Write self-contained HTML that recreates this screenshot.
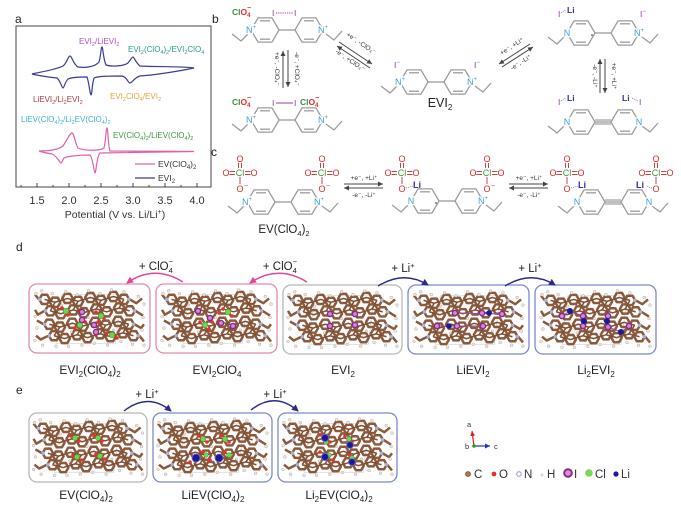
<!DOCTYPE html>
<html><head><meta charset="utf-8">
<style>
html,body{margin:0;padding:0;background:#fff;}
svg{display:block;font-family:"Liberation Sans",Arial,sans-serif;}
</style></head><body>
<svg width="681" height="509" viewBox="0 0 681 509" xmlns="http://www.w3.org/2000/svg">
<defs>
 <g id="ring"><polygon points="-14,0 -7,-12.1 7,-12.1 14,0 7,12.1 -7,12.1"/><line x1="-5" y1="-9.2" x2="5" y2="-9.2"/><line x1="-5" y1="9.2" x2="5" y2="9.2"/></g>
 <g id="bp" fill="none" stroke="#9c9c9c" stroke-width="1.3" stroke-linejoin="round">
   <use href="#ring"/><use href="#ring" x="44"/><line x1="14" y1="0" x2="30" y2="0"/>
   <polyline points="-17,4 -24,11 -33,4"/><polyline points="61,4 69,10 77,1"/>
 </g>
 <polygon id="hx" points="-5.5,0 -2.75,-4.8 2.75,-4.8 5.5,0 2.75,4.8 -2.75,4.8"/>
 <symbol id="cry" viewBox="0 0 118 68">
  <g fill="none" stroke="#c9c9c9" stroke-width=".6"><path d="M30,9 L92,9 L86,60 L24,60 Z"/></g>
  <g fill="none" stroke="#8b5a3c" stroke-width="2.6" stroke-linejoin="round">
   <use href="#hx" x="12" y="14"/><use href="#hx" x="23" y="17"/><use href="#hx" x="36" y="13"/><use href="#hx" x="47" y="16"/><use href="#hx" x="60" y="12"/><use href="#hx" x="71" y="15"/><use href="#hx" x="84" y="11"/><use href="#hx" x="95" y="14"/>
   <use href="#hx" x="18" y="26"/><use href="#hx" x="29" y="29"/><use href="#hx" x="42" y="25"/><use href="#hx" x="53" y="28"/><use href="#hx" x="66" y="24"/><use href="#hx" x="77" y="27"/><use href="#hx" x="90" y="23"/><use href="#hx" x="101" y="26"/>
   <use href="#hx" x="17" y="40"/><use href="#hx" x="28" y="43"/><use href="#hx" x="41" y="39"/><use href="#hx" x="52" y="42"/><use href="#hx" x="65" y="38"/><use href="#hx" x="76" y="41"/><use href="#hx" x="89" y="37"/><use href="#hx" x="100" y="40"/>
   <use href="#hx" x="22" y="52"/><use href="#hx" x="33" y="55"/><use href="#hx" x="46" y="51"/><use href="#hx" x="57" y="54"/><use href="#hx" x="70" y="50"/><use href="#hx" x="81" y="53"/><use href="#hx" x="94" y="49"/><use href="#hx" x="105" y="52"/>
   <path d="M6,14 L2,9 M101,14 L108,18 L114,13 M12,26 L5,30 L2,25 M107,26 L115,31 M11,40 L4,36 M106,40 L113,44 L116,40 M16,52 L8,56 L3,52 M111,52 L116,58"/>
  </g>
  <g fill="none" stroke="#7e5034" stroke-width="1.6" stroke-linejoin="round">
   <polyline points="12,14 23,17 36,13 47,16 60,12 71,15 84,11 95,14"/>
   <polyline points="18,26 29,29 42,25 53,28 66,24 77,27 90,23 101,26"/>
   <polyline points="17,40 28,43 41,39 52,42 65,38 76,41 89,37 100,40"/>
   <polyline points="22,52 33,55 46,51 57,54 70,50 81,53 94,49 105,52"/>
   <path d="M23,17 L18,26 M47,16 L42,25 M71,15 L66,24 M95,14 L90,23 M28,43 L22,52 M52,42 L46,51 M76,41 L70,50 M100,40 L94,49"/>
  </g>
  <g fill="#f2eeea" stroke="#c4b4aa" stroke-width=".6">
   <circle cx="3" cy="8" r="1.4"/><circle cx="9" cy="5" r="1.4"/><circle cx="20" cy="8" r="1.4"/><circle cx="34" cy="6" r="1.4"/><circle cx="46" cy="9" r="1.4"/><circle cx="58" cy="5" r="1.4"/><circle cx="70" cy="8" r="1.4"/><circle cx="82" cy="4" r="1.4"/><circle cx="95" cy="6" r="1.4"/><circle cx="110" cy="11" r="1.4"/><circle cx="116" cy="19" r="1.4"/><circle cx="115" cy="33" r="1.4"/><circle cx="2" cy="32" r="1.4"/><circle cx="4" cy="44" r="1.4"/><circle cx="114" cy="46" r="1.4"/><circle cx="2" cy="57" r="1.4"/><circle cx="10" cy="62" r="1.4"/><circle cx="24" cy="63" r="1.4"/><circle cx="37" cy="63" r="1.4"/><circle cx="51" cy="62" r="1.4"/><circle cx="64" cy="60" r="1.4"/><circle cx="78" cy="62" r="1.4"/><circle cx="92" cy="58" r="1.4"/><circle cx="104" cy="61" r="1.4"/><circle cx="116" cy="62" r="1.4"/><circle cx="30" cy="20" r="1.2"/><circle cx="58" cy="33" r="1.2"/><circle cx="84" cy="46" r="1.2"/><circle cx="40" cy="48" r="1.2"/>
  </g>
  <g fill="#a9b0d4"><circle cx="7" cy="14" r="1.8"/><circle cx="100" cy="14" r="1.8"/><circle cx="13" cy="26" r="1.8"/><circle cx="106" cy="26" r="1.8"/><circle cx="12" cy="40" r="1.8"/><circle cx="105" cy="40" r="1.8"/><circle cx="17" cy="52" r="1.8"/><circle cx="110" cy="52" r="1.8"/></g>
 </symbol>
 <marker id="ap" markerWidth="8" markerHeight="8" refX="6" refY="4" orient="auto" markerUnits="userSpaceOnUse"><path d="M0,0.5 L7,4 L0,7.5 Z" fill="#e0459a"/></marker>
 <marker id="ab" markerWidth="8" markerHeight="8" refX="6" refY="4" orient="auto" markerUnits="userSpaceOnUse"><path d="M0,0.5 L7,4 L0,7.5 Z" fill="#2a2a8a"/></marker>
 <marker id="ag" markerWidth="6" markerHeight="6" refX="5" refY="3" orient="auto" markerUnits="userSpaceOnUse"><path d="M0,0.5 L5,3 L0,5.5 Z" fill="#444"/></marker>
 <marker id="ar" markerWidth="6" markerHeight="6" refX="5" refY="3" orient="auto" markerUnits="userSpaceOnUse"><path d="M0,0.5 L5,3 L0,5.5 Z" fill="#d02020"/></marker>
 <marker id="abl" markerWidth="6" markerHeight="6" refX="5" refY="3" orient="auto" markerUnits="userSpaceOnUse"><path d="M0,0.5 L5,3 L0,5.5 Z" fill="#2030c0"/></marker>
</defs>
<rect width="681" height="509" fill="#fff"/>

<!-- ============ panel letters ============ -->
<g font-size="12" fill="#222">
 <text x="15" y="23">a</text><text x="212" y="23">b</text><text x="211" y="156">c</text><text x="16" y="251">d</text><text x="16" y="394">e</text>
</g>

<!-- ============ panel a ============ -->
<rect x="16" y="26" width="195" height="161" fill="none" stroke="#444" stroke-width="1"/>
<g stroke="#444" stroke-width="1">
 <path d="M37,187v-4M69,187v-4M101,187v-4M133,187v-4M165,187v-4M197,187v-4M53,187v-2M85,187v-2M117,187v-2M149,187v-2M181,187v-2M21,187v-2"/>
</g>
<g font-size="11" fill="#333" text-anchor="middle">
 <text x="37" y="204">1.5</text><text x="69" y="204">2.0</text><text x="101" y="204">2.5</text><text x="133" y="204">3.0</text><text x="165" y="204">3.5</text><text x="197" y="204">4.0</text>
 <text x="115" y="218" font-size="10.5">Potential (V vs. Li/Li<tspan font-size="7" dy="-4">+</tspan><tspan dy="4">)</tspan></text>
</g>
<path d="M32,74 C40,72 55,70 63,66 C67,63 68,56 70,56 C72,56 73,64 78,67 C85,68 95,67 99,62 C101,55 101,47 102,47 C103,47 103,58 106,65 C112,67 124,66 128,63 C131,59 132,57 133,57 C134,57 136,63 140,66 C155,67 180,66 194,68 C180,71 155,75 140,76 C135,77 132,83 130,83 C128,83 127,77 122,76 C110,76 98,76 94,78 C92,84 92,95 91,95 C90,95 89,82 87,77 C80,77 72,77 68,79 C65,82 64,88 63,88 C62,88 60,80 57,78 C48,77 40,76 32,74 Z" fill="none" stroke="#3c3c94" stroke-width="1.2"/>
<path d="M39,151 C48,151 58,150 63,146 C67,140 70,133 72,133 C74,133 75,143 78,148 C84,151 100,151 104,148 C106,140 106,128 107,128 C108,128 108,145 110,151 L194,151.5 L100,153 C97,155 96,173 95,173 C94,173 93,158 90,155 C80,155 68,156 64,158 C62,161 62,163 61,163 C60,163 57,156 52,154 C46,153 42,152 39,151 Z" fill="none" stroke="#e060a8" stroke-width="1.2"/>
<g font-size="8">
 <text x="79" y="44" fill="#b050d0">EVI<tspan font-size="5.5" dy="2">2</tspan><tspan dy="-2">/LiEVI</tspan><tspan font-size="5.5" dy="2">2</tspan></text>
 <text x="128" y="52" fill="#2a9c8c">EVI<tspan font-size="5.5" dy="2">2</tspan><tspan dy="-2">(ClO</tspan><tspan font-size="5.5" dy="2">4</tspan><tspan dy="-2">)</tspan><tspan font-size="5.5" dy="2">2</tspan><tspan dy="-2">/EVI</tspan><tspan font-size="5.5" dy="2">2</tspan><tspan dy="-2">ClO</tspan><tspan font-size="5.5" dy="2">4</tspan></text>
 <text x="33" y="102" fill="#b03a3a">LiEVI<tspan font-size="5.5" dy="2">2</tspan><tspan dy="-2">/Li</tspan><tspan font-size="5.5" dy="2">2</tspan><tspan dy="-2">EVI</tspan><tspan font-size="5.5" dy="2">2</tspan></text>
 <text x="110" y="99" fill="#e6a232">EVI<tspan font-size="5.5" dy="2">2</tspan><tspan dy="-2">ClO</tspan><tspan font-size="5.5" dy="2">4</tspan><tspan dy="-2">/EVI</tspan><tspan font-size="5.5" dy="2">2</tspan></text>
 <text x="21" y="122" fill="#3ab0e0">LiEV(ClO<tspan font-size="5.5" dy="2">4</tspan><tspan dy="-2">)</tspan><tspan font-size="5.5" dy="2">2</tspan><tspan dy="-2">/Li</tspan><tspan font-size="5.5" dy="2">2</tspan><tspan dy="-2">EV(ClO</tspan><tspan font-size="5.5" dy="2">4</tspan><tspan dy="-2">)</tspan><tspan font-size="5.5" dy="2">2</tspan></text>
 <text x="113" y="138" fill="#3a9a3a">EV(ClO<tspan font-size="5.5" dy="2">4</tspan><tspan dy="-2">)</tspan><tspan font-size="5.5" dy="2">2</tspan><tspan dy="-2">/LiEV(ClO</tspan><tspan font-size="5.5" dy="2">4</tspan><tspan dy="-2">)</tspan><tspan font-size="5.5" dy="2">2</tspan></text>
</g>
<line x1="135" y1="164" x2="155" y2="164" stroke="#e060a8" stroke-width="1.2"/>
<line x1="135" y1="178" x2="155" y2="178" stroke="#3c3c94" stroke-width="1.2"/>
<g font-size="8.5" fill="#333">
 <text x="158" y="167">EV(ClO<tspan font-size="6" dy="2">4</tspan><tspan dy="-2">)</tspan><tspan font-size="6" dy="2">2</tspan></text>
 <text x="158" y="181">EVI<tspan font-size="6" dy="2">2</tspan></text>
</g>

<!-- ============ panel b molecules ============ -->
<use href="#bp" x="265" y="30"/>
<use href="#bp" x="265" y="120"/>
<use href="#bp" x="414" y="82"/>
<use href="#bp" x="581" y="33"/>
<use href="#bp" x="581" y="122"/>
<use href="#bp" x="261" y="202"/>
<use href="#bp" x="425" y="201"/>
<use href="#bp" x="591" y="202"/>
<g stroke="#9c9c9c" stroke-width="1.2">
 <line x1="595" y1="120" x2="611" y2="120"/><line x1="595" y1="124" x2="611" y2="124"/>
 <line x1="605" y1="200" x2="621" y2="200"/><line x1="605" y1="204" x2="621" y2="204"/>
</g>
<g fill="#555"><circle cx="592" cy="35" r="0.9"/><circle cx="436" cy="203" r="0.9"/></g>
<!-- N labels -->
<g font-size="9" fill="#3a9ee0" text-anchor="middle" stroke="#fff" stroke-width="2.5" paint-order="stroke">
 <text x="251" y="33">N<tspan font-size="6" dy="-4">+</tspan></text><text x="323" y="33">N<tspan font-size="6" dy="-4">+</tspan></text>
 <text x="251" y="123">N<tspan font-size="6" dy="-4">+</tspan></text><text x="323" y="123">N<tspan font-size="6" dy="-4">+</tspan></text>
 <text x="400" y="85">N<tspan font-size="6" dy="-4">+</tspan></text><text x="472" y="85">N<tspan font-size="6" dy="-4">+</tspan></text>
 <text x="567" y="36">N</text><text x="639" y="36">N<tspan font-size="6" dy="-4">+</tspan></text>
 <text x="567" y="125">N</text><text x="639" y="125">N</text>
 <text x="247" y="205">N<tspan font-size="6" dy="-4">+</tspan></text><text x="319" y="205">N<tspan font-size="6" dy="-4">+</tspan></text>
 <text x="411" y="204">N</text><text x="483" y="204">N<tspan font-size="6" dy="-4">+</tspan></text>
 <text x="577" y="205">N</text><text x="649" y="205">N</text>
</g>
<!-- ClO4- labels b -->
<g font-size="8.5" font-weight="bold">
 <text x="232" y="15"><tspan fill="#2f9a3a">Cl</tspan><tspan fill="#e02a2a">O</tspan><tspan fill="#e02a2a" font-size="6" dy="2">4</tspan><tspan fill="#e02a2a" font-size="7" dx="-3.5" dy="-7">−</tspan></text>
 <text x="232" y="105"><tspan fill="#2f9a3a">Cl</tspan><tspan fill="#e02a2a">O</tspan><tspan fill="#e02a2a" font-size="6" dy="2">4</tspan><tspan fill="#e02a2a" font-size="7" dx="-3.5" dy="-7">−</tspan></text>
 <text x="300" y="105"><tspan fill="#2f9a3a">Cl</tspan><tspan fill="#e02a2a">O</tspan><tspan fill="#e02a2a" font-size="6" dy="2">4</tspan><tspan fill="#e02a2a" font-size="7" dx="-3.5" dy="-7">−</tspan></text>
</g>
<g font-size="8.5" fill="#9a3aa0">
 <text x="272" y="16">I</text><text x="294" y="16">I</text>
 <text x="272" y="106">I</text><text x="294" y="106">I</text>
 <text x="394" y="68">I<tspan font-size="6" dy="-4">−</tspan></text><text x="474" y="68">I<tspan font-size="6" dy="-4">−</tspan></text>
 <text x="558" y="17">I</text><text x="640" y="17">I<tspan font-size="6" dy="-4">−</tspan></text>
 <text x="558" y="105">I</text><text x="639" y="105">I</text>
</g>
<g stroke="#9a3aa0" stroke-width=".9">
 <line x1="276" y1="13" x2="293" y2="13" stroke-dasharray="1.2,1"/>
 <line x1="276" y1="103" x2="293" y2="103"/>
</g>
<g font-size="8.5" fill="#3030a8" font-weight="bold">
 <text x="567" y="13">Li</text><text x="567" y="101">Li</text><text x="622" y="101">Li</text>
</g>
<g stroke="#666" stroke-width=".7" stroke-dasharray="1,1">
 <line x1="561" y1="13" x2="566" y2="10"/><line x1="561" y1="101" x2="566" y2="98"/><line x1="632" y1="98" x2="638" y2="101"/>
</g>
<text x="440" y="107" font-size="12.5" fill="#222" text-anchor="middle">EVI<tspan font-size="8" dy="3">2</tspan></text>

<!-- b arrows -->
<g stroke="#444" stroke-width="1" fill="none">
 <line x1="283" y1="88" x2="283" y2="51" marker-end="url(#ag)"/>
 <line x1="288" y1="50" x2="288" y2="87" marker-end="url(#ag)"/>
 <line x1="339" y1="42" x2="372" y2="64" marker-end="url(#ag)"/>
 <line x1="370" y1="68" x2="337" y2="46" marker-end="url(#ag)"/>
 <line x1="502" y1="67" x2="533" y2="47" marker-end="url(#ag)"/>
 <line x1="530" y1="44" x2="499" y2="64" marker-end="url(#ag)"/>
 <line x1="600" y1="93" x2="600" y2="59" marker-end="url(#ag)"/>
 <line x1="605" y1="59" x2="605" y2="93" marker-end="url(#ag)"/>
 <line x1="344" y1="184" x2="383" y2="184" marker-end="url(#ag)"/>
 <line x1="383" y1="188" x2="344" y2="188" marker-end="url(#ag)"/>
 <line x1="509" y1="184" x2="548" y2="184" marker-end="url(#ag)"/>
 <line x1="548" y1="188" x2="509" y2="188" marker-end="url(#ag)"/>
</g>
<g font-size="6.5" fill="#333" text-anchor="middle">
 <text transform="translate(275,69) rotate(90)">+e⁻, -ClO₄⁻</text>
 <text transform="translate(295,69) rotate(90)">-e⁻, +ClO₄⁻</text>
 <text transform="translate(360,45) rotate(34)">+e⁻, -ClO₄⁻</text>
 <text transform="translate(349,62) rotate(34)">-e⁻, +ClO₄⁻</text>
 <text transform="translate(513,48) rotate(-33)">+e⁻, +Li⁺</text>
 <text transform="translate(522,64) rotate(-33)">-e⁻, -Li⁺</text>
 <text transform="translate(593,76) rotate(90)">-e⁻, -Li⁺</text>
 <text transform="translate(612,76) rotate(90)">+e⁻, +Li⁺</text>
 <text x="364" y="180">+e⁻, +Li⁺</text>
 <text x="364" y="197">-e⁻, -Li⁺</text>
 <text x="529" y="180">+e⁻, +Li⁺</text>
 <text x="529" y="197">-e⁻, -Li⁺</text>
</g>

<!-- ============ panel c ClO4 groups ============ -->
<g>
 <g stroke="#d04040" stroke-width="1">
  <path d="M229,171.5h6M229,174.5h6M245,171.5h6M245,174.5h6M238.5,163v5M241.5,163v5M240,177v7"/>
  <path d="M311,171.5h6M311,174.5h6M327,171.5h6M327,174.5h6M320.5,163v5M323.5,163v5M322,177v7"/>
  <path d="M391,171.5h6M391,174.5h6M407,171.5h6M407,174.5h6M400.5,163v5M403.5,163v5M402,177v7"/>
  <path d="M476,171.5h6M476,174.5h6M492,171.5h6M492,174.5h6M485.5,163v5M488.5,163v5M487,177v7"/>
  <path d="M556,171.5h6M556,174.5h6M572,171.5h6M572,174.5h6M565.5,163v5M568.5,163v5M567,177v7"/>
  <path d="M645,171.5h6M645,174.5h6M661,171.5h6M661,174.5h6M654.5,163v5M657.5,163v5M656,177v7"/>
 </g>
 <g font-size="9" text-anchor="middle" fill="#e02a2a" stroke="#fff" stroke-width="1.5" paint-order="stroke">
  <text x="226" y="176">O</text><text x="254" y="176">O</text><text x="240" y="162">O</text><text x="240" y="192">O</text>
  <text x="308" y="176">O</text><text x="336" y="176">O</text><text x="322" y="162">O</text><text x="322" y="192">O</text>
  <text x="388" y="176">O</text><text x="416" y="176">O</text><text x="402" y="162">O</text><text x="402" y="192">O</text>
  <text x="473" y="176">O</text><text x="501" y="176">O</text><text x="487" y="162">O</text><text x="487" y="192">O</text>
  <text x="553" y="176">O</text><text x="581" y="176">O</text><text x="567" y="162">O</text><text x="567" y="192">O</text>
  <text x="642" y="176">O</text><text x="670" y="176">O</text><text x="656" y="162">O</text><text x="656" y="192">O</text>
 </g>
 <g font-size="9" text-anchor="middle" fill="#2f9a3a" stroke="#fff" stroke-width="1.5" paint-order="stroke">
  <text x="240" y="176">Cl</text><text x="322" y="176">Cl</text><text x="402" y="176">Cl</text><text x="487" y="176">Cl</text><text x="567" y="176">Cl</text><text x="656" y="176">Cl</text>
 </g>
 <g font-size="7" fill="#e02a2a">
  <text x="244" y="188">−</text><text x="326" y="188">−</text><text x="491" y="188">−</text>
 </g>
 <g stroke="#666" stroke-width=".7" stroke-dasharray="1,1">
  <line x1="406" y1="188" x2="413" y2="186"/><line x1="571" y1="188" x2="578" y2="186"/><line x1="652" y1="188" x2="646" y2="186"/>
 </g>
 <g font-size="9" fill="#3030a8" font-weight="bold">
  <text x="413" y="188">Li</text><text x="578" y="188">Li</text><text x="636" y="188">Li</text>
 </g>
</g>
<text x="284" y="233" font-size="11.5" fill="#222" text-anchor="middle">EV(ClO<tspan font-size="7.5" dy="3">4</tspan><tspan dy="-3">)</tspan><tspan font-size="7.5" dy="3">2</tspan></text>

<!-- ============ panel d ============ -->
<g fill="none" stroke-width="1.3">
 <rect x="29" y="284" width="121" height="69" rx="8" stroke="#e28ab2"/>
 <rect x="156" y="284" width="121" height="69" rx="8" stroke="#e28ab2"/>
 <rect x="283" y="285" width="119" height="69" rx="8" stroke="#b8b8b8"/>
 <rect x="408" y="285" width="121" height="69" rx="8" stroke="#7c88cc"/>
 <rect x="535" y="285" width="121" height="69" rx="8" stroke="#7c88cc"/>
</g>
<use href="#cry" x="31" y="286" width="117" height="65"/>
<use href="#cry" x="158" y="286" width="117" height="65"/>
<use href="#cry" x="285" y="287" width="115" height="65"/>
<use href="#cry" x="410" y="287" width="117" height="65"/>
<use href="#cry" x="537" y="287" width="117" height="65"/>
<!-- atoms d1 -->
<g fill="#e83030"><circle cx="62" cy="308" r="1.8"/><circle cx="68" cy="315" r="1.8"/><circle cx="96" cy="312" r="1.8"/><circle cx="104" cy="318" r="1.8"/><circle cx="75" cy="328" r="1.8"/><circle cx="85" cy="322" r="1.8"/><circle cx="107" cy="333" r="1.8"/><circle cx="117" cy="338" r="1.8"/><circle cx="98" cy="322" r="1.8"/></g>
<g fill="#6ad84a" stroke="#3a9a2a" stroke-width=".5"><circle cx="66" cy="311" r="2.8"/><circle cx="101" cy="316" r="2.8"/><circle cx="80" cy="325" r="2.8"/><circle cx="112" cy="335" r="2.8"/></g>
<g fill="#d48ad8" stroke="#8a2a8a" stroke-width="1.4"><circle cx="82" cy="312" r="2.6"/><circle cx="82" cy="320" r="2.6"/><circle cx="94" cy="325" r="2.6"/><circle cx="96" cy="332" r="2.6"/></g>
<!-- atoms d2 -->
<g fill="#e83030"><circle cx="223" cy="309" r="1.8"/><circle cx="232" cy="316" r="1.8"/><circle cx="219" cy="313" r="1.8"/><circle cx="200" cy="322" r="1.8"/><circle cx="209" cy="329" r="1.8"/><circle cx="212" cy="322" r="1.8"/></g>
<g fill="#6ad84a" stroke="#3a9a2a" stroke-width=".5"><circle cx="228" cy="312" r="2.8"/><circle cx="205" cy="325" r="2.8"/></g>
<g fill="#d48ad8" stroke="#8a2a8a" stroke-width="1.4"><circle cx="198" cy="311" r="2.6"/><circle cx="210" cy="318" r="2.6"/><circle cx="221" cy="323" r="2.6"/><circle cx="233" cy="326" r="2.6"/></g>
<!-- atoms d3 -->
<g fill="#d48ad8" stroke="#8a2a8a" stroke-width="1.4"><circle cx="330" cy="314" r="2.6"/><circle cx="330" cy="326" r="2.6"/><circle cx="355" cy="314" r="2.6"/><circle cx="355" cy="325" r="2.6"/></g>
<!-- atoms d4 -->
<g stroke="#9a4aa0" stroke-width="1"><line x1="455" y1="313" x2="502" y2="314"/><line x1="437" y1="326" x2="483" y2="326"/></g>
<g fill="#d48ad8" stroke="#8a2a8a" stroke-width="1.4"><circle cx="455" cy="313" r="2.6"/><circle cx="482" cy="313" r="2.6"/><circle cx="502" cy="314" r="2.6"/><circle cx="437" cy="326" r="2.6"/><circle cx="457" cy="326" r="2.6"/><circle cx="483" cy="326" r="2.6"/></g>
<g fill="#1a1a9a"><circle cx="489" cy="313" r="2.8"/><circle cx="449" cy="326" r="2.8"/></g>
<!-- atoms d5 -->
<g stroke="#9a4aa0" stroke-width="1"><polyline fill="none" points="562,316 570,311 583,316 584,321 583,326"/><polyline fill="none" points="608,316 607,321 608,327 621,332 629,326"/></g>
<g fill="#d48ad8" stroke="#8a2a8a" stroke-width="1.4"><circle cx="562" cy="316" r="2.6"/><circle cx="583" cy="316" r="2.6"/><circle cx="608" cy="316" r="2.6"/><circle cx="583" cy="326" r="2.6"/><circle cx="608" cy="327" r="2.6"/><circle cx="629" cy="326" r="2.6"/></g>
<g fill="#1a1a9a"><circle cx="570" cy="311" r="3"/><circle cx="584" cy="321" r="3"/><circle cx="607" cy="321" r="3"/><circle cx="621" cy="332" r="3"/></g>
<!-- d arrows -->
<g fill="none" stroke-width="1.4">
 <path d="M183,282 Q154,264 127,283" stroke="#e0459a" marker-end="url(#ap)"/>
 <path d="M307,282 Q278,264 250,283" stroke="#e0459a" marker-end="url(#ap)"/>
 <path d="M378,286 Q404,270 428,285" stroke="#2a2a8a" marker-end="url(#ab)"/>
 <path d="M505,286 Q531,270 555,285" stroke="#2a2a8a" marker-end="url(#ab)"/>
</g>
<g font-size="11.5" fill="#222" text-anchor="middle">
 <text x="156" y="270">+ ClO<tspan font-size="7.5" dy="3">4</tspan><tspan font-size="7.5" dx="-4" dy="-9">−</tspan></text>
 <text x="280" y="270">+ ClO<tspan font-size="7.5" dy="3">4</tspan><tspan font-size="7.5" dx="-4" dy="-9">−</tspan></text>
 <text x="403" y="272">+ Li<tspan font-size="7.5" dy="-4">+</tspan></text>
 <text x="530" y="272">+ Li<tspan font-size="7.5" dy="-4">+</tspan></text>
</g>
<g font-size="12" fill="#222" text-anchor="middle">
 <text x="90" y="374">EVI<tspan font-size="8" dy="3">2</tspan><tspan dy="-3">(ClO</tspan><tspan font-size="8" dy="3">4</tspan><tspan dy="-3">)</tspan><tspan font-size="8" dy="3">2</tspan></text>
 <text x="217" y="374">EVI<tspan font-size="8" dy="3">2</tspan><tspan dy="-3">ClO</tspan><tspan font-size="8" dy="3">4</tspan></text>
 <text x="343" y="374">EVI<tspan font-size="8" dy="3">2</tspan></text>
 <text x="473" y="374">LiEVI<tspan font-size="8" dy="3">2</tspan></text>
 <text x="596" y="374">Li<tspan font-size="8" dy="3">2</tspan><tspan dy="-3">EVI</tspan><tspan font-size="8" dy="3">2</tspan></text>
</g>

<!-- ============ panel e ============ -->
<g fill="none" stroke-width="1.3">
 <rect x="29" y="413" width="118" height="69" rx="8" stroke="#b8b8b8"/>
 <rect x="153" y="413" width="119" height="69" rx="8" stroke="#7c88cc"/>
 <rect x="278" y="413" width="119" height="69" rx="8" stroke="#7c88cc"/>
</g>
<use href="#cry" x="31" y="415" width="114" height="65"/>
<use href="#cry" x="155" y="415" width="115" height="65"/>
<use href="#cry" x="280" y="415" width="115" height="65"/>
<!-- e1 -->
<g fill="#e83030"><circle cx="71" cy="436" r="1.8"/><circle cx="79" cy="441" r="1.8"/><circle cx="94" cy="436" r="1.8"/><circle cx="102" cy="441" r="1.8"/><circle cx="73" cy="455" r="1.8"/><circle cx="81" cy="460" r="1.8"/><circle cx="96" cy="454" r="1.8"/><circle cx="104" cy="459" r="1.8"/></g>
<g fill="#6ad84a" stroke="#3a9a2a" stroke-width=".5"><circle cx="75" cy="438" r="2.6"/><circle cx="98" cy="438" r="2.6"/><circle cx="77" cy="457" r="2.6"/><circle cx="100" cy="456" r="2.6"/></g>
<!-- e2 -->
<g fill="#e83030"><circle cx="199" cy="436" r="1.8"/><circle cx="207" cy="442" r="1.8"/><circle cx="221" cy="436" r="1.8"/><circle cx="229" cy="442" r="1.8"/><circle cx="203" cy="452" r="1.8"/><circle cx="210" cy="460" r="1.8"/><circle cx="225" cy="452" r="1.8"/><circle cx="190" cy="462" r="1.8"/></g>
<g fill="#6ad84a" stroke="#3a9a2a" stroke-width=".5"><circle cx="203" cy="439" r="2.6"/><circle cx="225" cy="439" r="2.6"/><circle cx="206" cy="455" r="2.4"/><circle cx="229" cy="455" r="2.4"/></g>
<g fill="#1a1a9a" stroke="#6a6ad0" stroke-width=".8"><circle cx="196" cy="458" r="4"/><circle cx="219" cy="458" r="4"/></g>
<!-- e3 -->
<g fill="#e83030"><circle cx="320" cy="435" r="1.8"/><circle cx="330" cy="442" r="1.8"/><circle cx="345" cy="436" r="1.8"/><circle cx="352" cy="442" r="1.8"/><circle cx="320" cy="452" r="1.8"/><circle cx="333" cy="460" r="1.8"/><circle cx="350" cy="455" r="1.8"/></g>
<g fill="#6ad84a" stroke="#3a9a2a" stroke-width=".5"><circle cx="326" cy="442" r="2.4"/><circle cx="349" cy="439" r="2.4"/><circle cx="329" cy="455" r="2.4"/><circle cx="352" cy="458" r="2.4"/></g>
<g fill="#1a1a9a" stroke="#6a6ad0" stroke-width=".8"><circle cx="325" cy="438" r="3.6"/><circle cx="325" cy="457" r="3.6"/><circle cx="350" cy="445" r="3.4"/><circle cx="352" cy="462" r="3.4"/></g>
<!-- e arrows -->
<g fill="none" stroke-width="1.4">
 <path d="M124,411 Q148,392 171,411" stroke="#2a2a8a" marker-end="url(#ab)"/>
 <path d="M251,410 Q275,391 298,411" stroke="#2a2a8a" marker-end="url(#ab)"/>
</g>
<g font-size="11.5" fill="#222" text-anchor="middle">
 <text x="147" y="398">+ Li<tspan font-size="7.5" dy="-4">+</tspan></text>
 <text x="275" y="398">+ Li<tspan font-size="7.5" dy="-4">+</tspan></text>
</g>
<g font-size="12" fill="#222" text-anchor="middle">
 <text x="86" y="499">EV(ClO<tspan font-size="8" dy="3">4</tspan><tspan dy="-3">)</tspan><tspan font-size="8" dy="3">2</tspan></text>
 <text x="213" y="499">LiEV(ClO<tspan font-size="8" dy="3">4</tspan><tspan dy="-3">)</tspan><tspan font-size="8" dy="3">2</tspan></text>
 <text x="339" y="499">Li<tspan font-size="8" dy="3">2</tspan><tspan dy="-3">EV(ClO</tspan><tspan font-size="8" dy="3">4</tspan><tspan dy="-3">)</tspan><tspan font-size="8" dy="3">2</tspan></text>
</g>

<!-- ============ axes + legend ============ -->
<line x1="474" y1="446" x2="472" y2="431" stroke="#d02020" stroke-width="1.2" marker-end="url(#ar)"/>
<line x1="474" y1="446" x2="490" y2="446" stroke="#2030c0" stroke-width="1.2" marker-end="url(#abl)"/>
<circle cx="474" cy="446" r="1.8" fill="#2a9a2a"/>
<g font-size="7.5" fill="#333">
 <text x="467" y="427">a</text><text x="465" y="449">b</text><text x="494" y="449">c</text>
</g>
<circle cx="468" cy="474" r="2.4" fill="#b0804a" stroke="#6a4020" stroke-width=".8"/>
<circle cx="494" cy="474" r="2.4" fill="#e03030"/>
<circle cx="519" cy="474" r="2.3" fill="#fff" stroke="#a0a0d0" stroke-width="1.1"/>
<circle cx="542" cy="475" r="1.5" fill="#d8d8d8"/>
<circle cx="568" cy="473" r="3.8" fill="#d890d8" stroke="#8a2a8a" stroke-width="2"/>
<circle cx="589" cy="473" r="3.8" fill="#7ad858"/>
<circle cx="616" cy="474" r="2.6" fill="#1a1a9a"/>
<g font-size="11.5" fill="#333">
 <text x="474" y="478">C</text><text x="499" y="478">O</text><text x="524" y="478">N</text><text x="547" y="478">H</text><text x="574" y="478">I</text><text x="595" y="478">Cl</text><text x="621" y="478">Li</text>
</g>
</svg>
</body></html>
